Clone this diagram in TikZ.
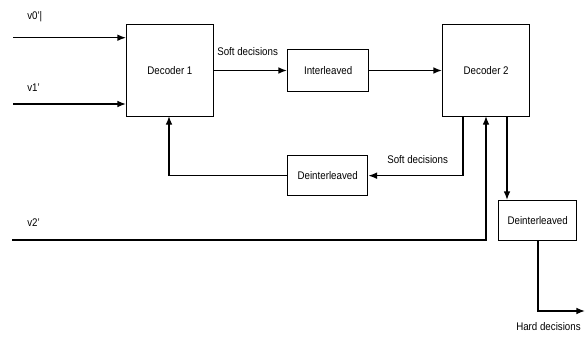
\documentclass[tikz,border=0pt]{standalone}
\usepackage{fontspec}
\setmainfont{Liberation Sans}[FakeStretch=0.88]
\usetikzlibrary{arrows.meta}
\begin{document}
\begin{tikzpicture}[x=0.75pt,y=-0.75pt,
  box/.style={draw,line width=1pt,inner sep=0pt,anchor=north west},
  lbl/.style={font=\fontsize{8.3pt}{9pt}\selectfont,inner sep=0pt},
  conn/.style={line width=1pt,-{Latex[length=6.5pt,width=5pt]}},
  line/.style={line width=1pt}]
\useasboundingbox (0,0) rectangle (585,336);
% boxes
\node[box,minimum width=86.5*0.75pt,minimum height=92*0.75pt] (d1) at (126,24) {};
\node[lbl] at (d1.center) {Decoder 1};
\node[box,minimum width=81*0.75pt,minimum height=42*0.75pt] (il) at (287,49) {};
\node[lbl] at (il.center) {Interleaved};
\node[box,minimum width=87*0.75pt,minimum height=92*0.75pt] (d2) at (442,24) {};
\node[lbl] at (d2.center) {Decoder 2};
\node[box,minimum width=80*0.75pt,minimum height=40*0.75pt] (di1) at (287,155) {};
\node[lbl] at (di1.center) {Deinterleaved};
\node[box,minimum width=78*0.75pt,minimum height=40*0.75pt] (di2) at (498,200) {};
\node[lbl] at (di2.center) {Deinterleaved};
% labels
\node[lbl,anchor=west] (v0) at (27,17) {v0'|};
\node[lbl,anchor=west] (v1) at (27,88) {v1'};
\node[lbl,anchor=west] (v2) at (27,223) {v2'};
\node[lbl,anchor=west] (sd1) at (217,52) {Soft decisions};
\node[lbl,anchor=west] (sd2) at (387,160) {Soft decisions};
\node[lbl,anchor=west] (hd) at (516,327) {Hard decisions};
% coordinates
\coordinate (i0) at (13,37.7);
\coordinate (i1) at (13,104);
\coordinate (i2) at (12,240);
\coordinate (o) at (585,311);
% connectors
\draw[conn] (i0) -- (i0 -| d1.west);
\draw[conn] (i1) -- (i1 -| d1.west);
\draw[conn] (d1.east |- 0,70.5) -- (il.west |- 0,70.5);
\draw[conn] (il.east |- 0,70.5) -- (d2.west |- 0,70.5);
\draw[conn] (463,116) |- (di1.east);
\draw[conn] (di1.west) -| (169,116);
\draw[conn] (i2) -| (486,116);
\draw[conn] (507,116) -- (507,200);
\draw[conn] (538,240) |- (o);
\end{tikzpicture}
\end{document}
